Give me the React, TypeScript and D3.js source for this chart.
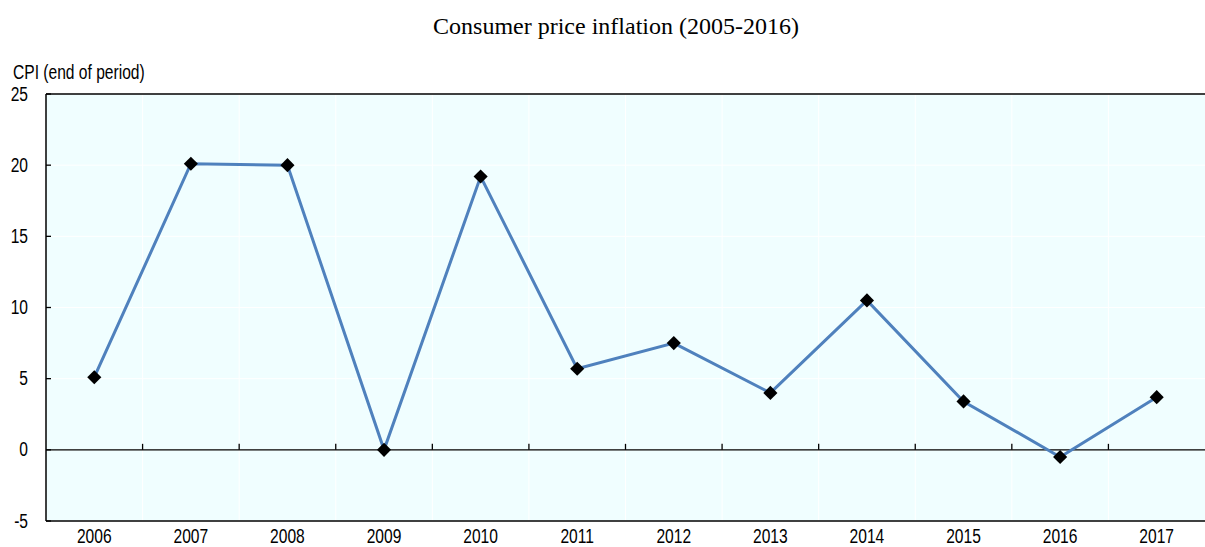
import React from "react";
import * as d3 from "d3";

const years = ["2006","2007","2008","2009","2010","2011","2012","2013","2014","2015","2016","2017"];
const cpi = [5.1, 20.1, 20.0, 0.0, 19.2, 5.7, 7.5, 4.0, 10.5, 3.4, -0.5, 3.7];
const yTicks = [-5, 0, 5, 10, 15, 20, 25];
const title = "Consumer price inflation (2005-2016)";
const yLabel = "CPI (end of period)";

const font = "'Liberation Sans', Arial, sans-serif";
const SX = 0.8;

function NText({ x, y, anchor, children }: { x: number; y: number; anchor?: string; children: React.ReactNode }) {
  return (
    <text transform={`translate(${x},${y}) scale(${SX},1)`} textAnchor={anchor || "start"} fontFamily={font} fontSize={19.5} fill="#000">
      {children}
    </text>
  );
}

export default function App() {
  const W = 1205, H = 547;
  const L = 46, R = 1205, T = 94, B = 521;
  const x = d3.scaleBand<string>().domain(years).range([L, R]);
  const y = d3.scaleLinear().domain([-5, 25]).range([B, T]);
  const cx = (d: string) => (x(d) as number) + x.bandwidth() / 2;
  const line = d3.line<number>().x((_, i) => cx(years[i])).y(d => y(d));
  return (
    <svg width={W} height={H} style={{ position: "absolute", left: 0, top: 0 }}>
      <rect x={0} y={0} width={W} height={H} fill="#fff" />
      <text x={616} y={34} textAnchor="middle" fontFamily="'Liberation Serif', 'Times New Roman', serif" fontSize={24} fill="#000">{title}</text>
      <NText x={13} y={78.5}>{yLabel}</NText>
      <rect x={L} y={T} width={R - L} height={B - T} fill="#f0feff" />
      {yTicks.map(t => (
        <line key={"g" + t} x1={L} x2={R} y1={y(t)} y2={y(t)} stroke="#fff" strokeWidth={1} />
      ))}
      {years.slice(1).map(d => (
        <line key={"v" + d} x1={x(d) as number} x2={x(d) as number} y1={T} y2={B} stroke="#fff" strokeWidth={1} />
      ))}
      <line x1={L} x2={R} y1={y(0)} y2={y(0)} stroke="#000" strokeWidth={1.3} />
      {years.slice(1).map(d => (
        <line key={"t" + d} x1={x(d) as number} x2={x(d) as number} y1={y(0) - 6} y2={y(0)} stroke="#000" strokeWidth={1.3} />
      ))}
      <line x1={L} x2={R} y1={T} y2={T} stroke="#000" strokeWidth={1.5} />
      <line x1={L} x2={R} y1={B} y2={B} stroke="#000" strokeWidth={1.5} />
      <line x1={L} x2={L} y1={T} y2={B} stroke="#000" strokeWidth={1.5} />
      {yTicks.map(t => (
        <line key={"yt" + t} x1={L} x2={L + 5} y1={y(t)} y2={y(t)} stroke="#000" strokeWidth={1.3} />
      ))}
      {yTicks.map(t => (
        <NText key={"yl" + t} x={28} y={y(t) + 6.5} anchor="end">{t}</NText>
      ))}
      {years.map(d => (
        <NText key={"xl" + d} x={cx(d)} y={542.5} anchor="middle">{d}</NText>
      ))}
      <path d={line(cpi) || ""} fill="none" stroke="#4f81bd" strokeWidth={3} />
      {cpi.map((v, i) => (
        <path key={"m" + i} d={d3.symbol(d3.symbolSquare, 100)() || ""} transform={`translate(${cx(years[i])},${y(v)}) rotate(45)`} fill="#000" />
      ))}
    </svg>
  );
}
